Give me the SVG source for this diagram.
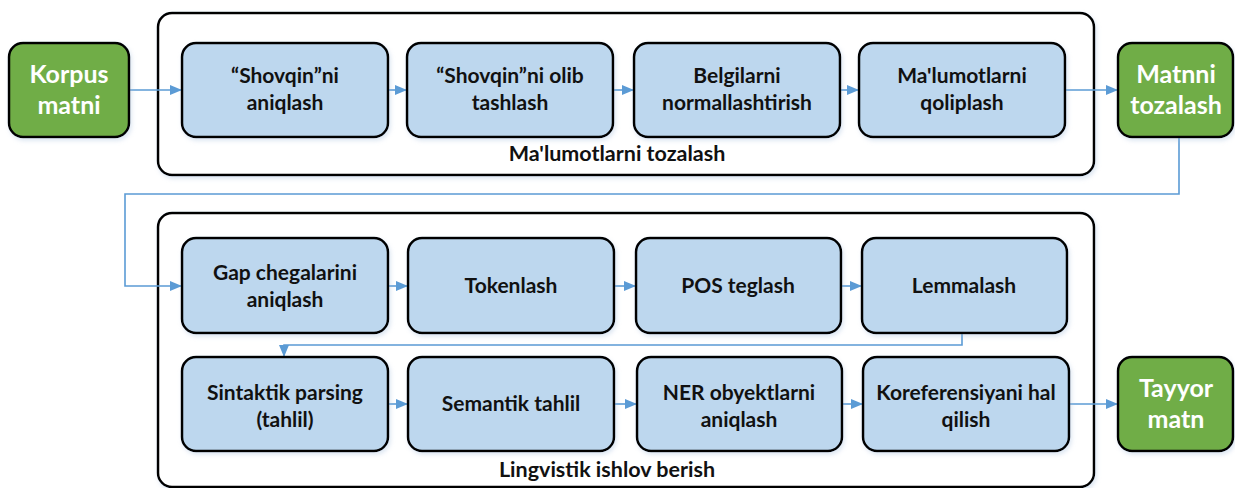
<svg xmlns="http://www.w3.org/2000/svg" width="1235" height="488" viewBox="0 0 1235 488">
<style>
.cont{fill:#ffffff;stroke:#000000;stroke-width:2.5}
.step{fill:#BDD7EE;stroke:#000000;stroke-width:2.5}
.term{fill:#70AD47;stroke:#000000;stroke-width:2.5}
.t{font-family:Lato,"Liberation Sans",sans-serif;font-weight:bold;font-size:21px;fill:#111111;text-anchor:middle}
.w{font-family:Lato,"Liberation Sans",sans-serif;font-weight:bold;font-size:25px;fill:#ffffff;text-anchor:middle}
.lab{font-family:Lato,"Liberation Sans",sans-serif;font-weight:bold;font-size:21.5px;fill:#111111;text-anchor:middle}
.c{fill:none;stroke:#5B9BD5;stroke-width:1.6}
</style>
<defs>
<marker id="ah" markerUnits="userSpaceOnUse" markerWidth="13" markerHeight="11" refX="12" refY="5" orient="auto">
<path d="M0,0 L12,5 L0,10 z" fill="#5B9BD5"/>
</marker>
<filter id="sh" x="-10%" y="-10%" width="125%" height="130%">
<feDropShadow dx="1.5" dy="2.5" stdDeviation="2" flood-color="#9DB8DA" flood-opacity="0.35"/>
</filter>
</defs>

<g id="container-tozalash">
<rect class="cont" x="158" y="13" width="936" height="162" rx="14" filter="url(#sh)"/>
<text class="lab" x="617" y="161">Ma'lumotlarni tozalash</text>
</g>
<g id="container-lingvistik">
<rect class="cont" x="158" y="213" width="936" height="274" rx="14" filter="url(#sh)"/>
<text class="lab" x="607" y="477">Lingvistik ishlov berish</text>
</g>

<g id="connectors">
<path class="c" d="M129,90 H182" marker-end="url(#ah)"/>
<path class="c" d="M388,90 H407" marker-end="url(#ah)"/>
<path class="c" d="M613,90 H634" marker-end="url(#ah)"/>
<path class="c" d="M840,90 H859" marker-end="url(#ah)"/>
<path class="c" d="M1065,90 H1118" marker-end="url(#ah)"/>
<path class="c" d="M1179,137 V194 H125 V286 H182" marker-end="url(#ah)"/>
<path class="c" d="M388,286 H408" marker-end="url(#ah)"/>
<path class="c" d="M614,286 H636" marker-end="url(#ah)"/>
<path class="c" d="M841,286 H862" marker-end="url(#ah)"/>
<path class="c" d="M962,333 V345 H284 V357" marker-end="url(#ah)"/>
<path class="c" d="M388,404 H408" marker-end="url(#ah)"/>
<path class="c" d="M614,404 H637" marker-end="url(#ah)"/>
<path class="c" d="M842,404 H863" marker-end="url(#ah)"/>
<path class="c" d="M1069,404 H1118" marker-end="url(#ah)"/>
</g>

<g id="korpus-matni">
<rect class="term" x="9" y="43" width="120" height="94" rx="14" filter="url(#sh)"/>
<text class="w" x="69" y="83">Korpus</text>
<text class="w" x="69" y="114">matni</text>
</g>
<g id="shovqin-aniqlash">
<rect class="step" x="182" y="43" width="206" height="94" rx="14" filter="url(#sh)"/>
<text class="t" x="285" y="83">“Shovqin”ni</text>
<text class="t" x="285" y="110">aniqlash</text>
</g>
<g id="shovqin-olib-tashlash">
<rect class="step" x="407" y="43" width="206" height="94" rx="14" filter="url(#sh)"/>
<text class="t" x="510" y="83">“Shovqin”ni olib</text>
<text class="t" x="510" y="110">tashlash</text>
</g>
<g id="belgilarni-normallashtirish">
<rect class="step" x="634" y="43" width="206" height="94" rx="14" filter="url(#sh)"/>
<text class="t" x="737" y="83">Belgilarni</text>
<text class="t" x="737" y="110">normallashtirish</text>
</g>
<g id="malumotlarni-qoliplash">
<rect class="step" x="859" y="43" width="206" height="94" rx="14" filter="url(#sh)"/>
<text class="t" x="962" y="83">Ma'lumotlarni</text>
<text class="t" x="962" y="110">qoliplash</text>
</g>
<g id="matnni-tozalash">
<rect class="term" x="1118" y="43" width="115" height="94" rx="14" filter="url(#sh)"/>
<text class="w" x="1176" y="83">Matnni</text>
<text class="w" x="1176" y="114">tozalash</text>
</g>

<g id="gap-chegaralarini-aniqlash">
<rect class="step" x="182" y="238" width="206" height="95" rx="14" filter="url(#sh)"/>
<text class="t" x="285" y="280">Gap chegalarini</text>
<text class="t" x="285" y="307">aniqlash</text>
</g>
<g id="tokenlash">
<rect class="step" x="408" y="238" width="206" height="95" rx="14" filter="url(#sh)"/>
<text class="t" x="511" y="293">Tokenlash</text>
</g>
<g id="pos-teglash">
<rect class="step" x="636" y="238" width="205" height="95" rx="14" filter="url(#sh)"/>
<text class="t" x="738" y="293">POS teglash</text>
</g>
<g id="lemmalash">
<rect class="step" x="862" y="238" width="205" height="95" rx="14" filter="url(#sh)"/>
<text class="t" x="964" y="293">Lemmalash</text>
</g>

<g id="sintaktik-parsing">
<rect class="step" x="182" y="357" width="206" height="94" rx="14" filter="url(#sh)"/>
<text class="t" x="285" y="400">Sintaktik parsing</text>
<text class="t" x="285" y="427">(tahlil)</text>
</g>
<g id="semantik-tahlil">
<rect class="step" x="408" y="357" width="206" height="94" rx="14" filter="url(#sh)"/>
<text class="t" x="511" y="411">Semantik tahlil</text>
</g>
<g id="ner-obyektlarni-aniqlash">
<rect class="step" x="637" y="357" width="205" height="94" rx="14" filter="url(#sh)"/>
<text class="t" x="739" y="400">NER obyektlarni</text>
<text class="t" x="739" y="427">aniqlash</text>
</g>
<g id="koreferensiyani-hal-qilish">
<rect class="step" x="863" y="357" width="206" height="94" rx="14" filter="url(#sh)"/>
<text class="t" x="966" y="400">Koreferensiyani hal</text>
<text class="t" x="966" y="427">qilish</text>
</g>
<g id="tayyor-matn">
<rect class="term" x="1118" y="357" width="115" height="94" rx="14" filter="url(#sh)"/>
<text class="w" x="1176" y="397">Tayyor</text>
<text class="w" x="1176" y="428">matn</text>
</g>
</svg>
